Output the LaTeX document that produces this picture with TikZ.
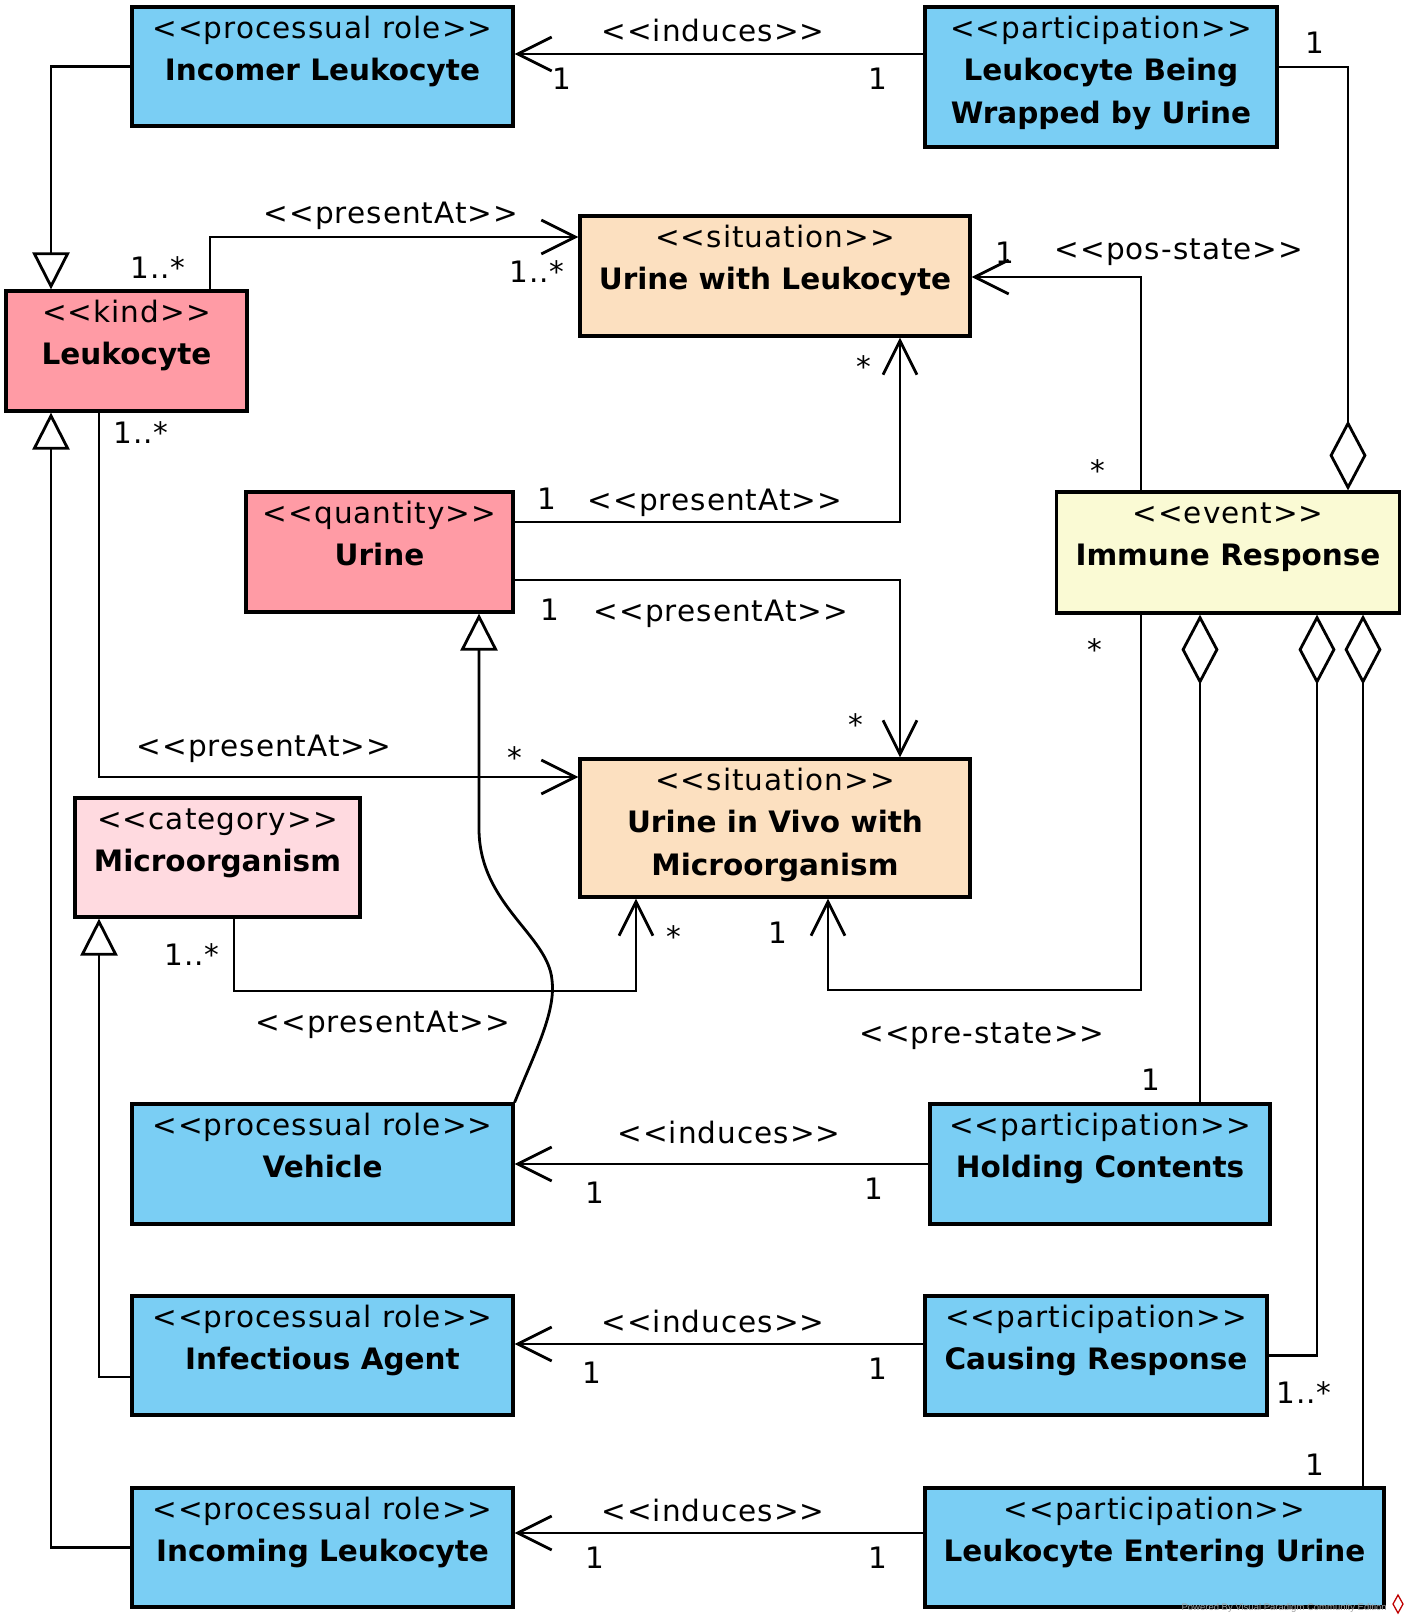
\documentclass[tikz,border=0pt]{standalone}
\usepackage{fontspec}
\setmainfont{DejaVu Sans}[Ligatures=TeXOff, LetterSpace=3.5, BoldFeatures={LetterSpace=0}]
\newfontfamily\wmfont{Liberation Sans}
\usetikzlibrary{arrows.meta}
\definecolor{roleblue}{RGB}{122,206,244}
\definecolor{kindpink}{RGB}{255,155,165}
\definecolor{sitpeach}{RGB}{252,224,192}
\definecolor{eventyellow}{RGB}{250,250,212}
\definecolor{catpink}{RGB}{255,218,224}
\newcommand{\umltext}[4]{\parbox[t][#2][t]{#1}{\centering\rule{0pt}{31pt}#3\\\textbf{#4}\par}}
\tikzset{
  cls/.style={draw=black, line width=3.2pt, inner sep=0pt, rectangle},
  conn/.style={line width=2.8pt, line join=miter},
  assoc/.style={conn, -{Straight Barb[length=34pt, width=34pt]}},
  gen/.style={conn, -{Triangle[length=37pt, width=37pt, fill=white]}},
  agg/.style={conn, -{Diamond[length=70pt, width=37pt, fill=white]}},
  lbl/.style={anchor=base, inner sep=0pt},
}
\begin{document}
\begin{tikzpicture}[x=1pt, y=-1pt, font=\fontsize{29.5pt}{42.5pt}\selectfont]
\useasboundingbox (0,0) rectangle (1410,1620);
\fill[white] (0,0) rectangle (1410,1620);

% classes
\node[cls, fill=roleblue] (incomer) at (322.5,66.5) {\umltext{381pt}{119pt}{<<processual role>>}{Incomer Leukocyte}};
\node[cls, fill=roleblue] (wrapped) at (1101,77) {\umltext{352pt}{140pt}{<<participation>>}{Leukocyte Being\\Wrapped by Urine}};
\node[cls, fill=kindpink] (leuko) at (126.5,351) {\umltext{241pt}{120pt}{<<kind>>}{Leukocyte}};
\node[cls, fill=sitpeach] (uwl) at (775,276) {\umltext{390pt}{120pt}{<<situation>>}{Urine with Leukocyte}};
\node[cls, fill=kindpink] (urine) at (379.5,552) {\umltext{267pt}{120pt}{<<quantity>>}{Urine}};
\node[cls, fill=eventyellow] (immune) at (1228,552.5) {\umltext{343pt}{121pt}{<<event>>}{Immune Response}};
\node[cls, fill=sitpeach] (uiv) at (775,828) {\umltext{390pt}{138pt}{<<situation>>}{Urine in Vivo with\\Microorganism}};
\node[cls, fill=catpink] (micro) at (217.5,857.5) {\umltext{285pt}{119pt}{<<category>>}{Microorganism}};
\node[cls, fill=roleblue] (vehicle) at (322.5,1164) {\umltext{381pt}{120pt}{<<processual role>>}{Vehicle}};
\node[cls, fill=roleblue] (holding) at (1100,1164) {\umltext{340pt}{120pt}{<<participation>>}{Holding Contents}};
\node[cls, fill=roleblue] (infect) at (322.5,1355.5) {\umltext{381pt}{119pt}{<<processual role>>}{Infectious Agent}};
\node[cls, fill=roleblue] (causing) at (1096,1355.5) {\umltext{342pt}{119pt}{<<participation>>}{Causing Response}};
\node[cls, fill=roleblue] (incoming) at (322.5,1547.5) {\umltext{381pt}{119pt}{<<processual role>>}{Incoming Leukocyte}};
\node[cls, fill=roleblue] (entering) at (1154.5,1547.5) {\umltext{459pt}{119pt}{<<participation>>}{Leukocyte Entering Urine}};

% routing coordinates
\coordinate (xa) at (51,0);   \coordinate (xb) at (99,0);
\coordinate (xc) at (210,0);  \coordinate (xd) at (234,0);
\coordinate (xe) at (479,0);  \coordinate (xf) at (636,0);
\coordinate (xg) at (828,0);  \coordinate (xh) at (900,0);
\coordinate (xi) at (1141,0); \coordinate (xj) at (1200,0);
\coordinate (xk) at (1317,0); \coordinate (xl) at (1348,0);
\coordinate (xm) at (1363,0);
\coordinate (ya) at (0,54);   \coordinate (yb) at (0,237);
\coordinate (yc) at (0,522);  \coordinate (yd) at (0,580);
\coordinate (ye) at (0,277);  \coordinate (yf) at (0,777);
\coordinate (yg) at (0,991);  \coordinate (yh) at (0,990);
\coordinate (yi) at (0,67);   \coordinate (yj) at (0,1344);
\coordinate (yk) at (0,1533); \coordinate (yl) at (0,1377);

% connectors
\draw[assoc] (wrapped.west |- ya) -- (incomer.east |- ya);
\draw[gen] (incomer.west) -| (leuko.north -| xa);
\draw[gen] (incoming.west) -| (leuko.south -| xa);
\draw[assoc] (leuko.north -| xc) |- (uwl.west |- yb);
\draw[assoc] (leuko.south -| xb) |- (uiv.west |- yf);
\draw[gen] (infect.west |- yl) -| (micro.south -| xb);
\draw[gen] (vehicle.north east) .. controls (535,1052) and (556,1012) .. (552,980) .. controls (548,935) and (480,905) .. (479,830) -- (urine.south -| xe);
\draw[assoc] (micro.south -| xd) -- (xd |- yg) -| (uiv.south -| xf);
\draw[assoc] (urine.east |- yc) -| (uwl.south -| xh);
\draw[assoc] (urine.east |- yd) -| (uiv.north -| xh);
\draw[assoc] (immune.north -| xi) |- (uwl.east |- ye);
\draw[assoc] (immune.south -| xi) -- (xi |- yh) -| (uiv.south -| xg);
\draw[agg] (wrapped.east |- yi) -| (immune.north -| xl);
\draw[agg] (holding.north -| xj) -- (immune.south -| xj);
\draw[agg] (causing.east) -| (immune.south -| xk);
\draw[agg] (entering.north -| xm) -- (immune.south -| xm);
\draw[assoc] (holding.west) -- (vehicle.east);
\draw[assoc] (causing.west |- yj) -- (infect.east |- yj);
\draw[assoc] (entering.west |- yk) -- (incoming.east |- yk);

% labels
\node[lbl] (l1) at (713,41) {<<induces>>};
\node[lbl] (l2) at (562,89) {1};
\node[lbl] (l3) at (878,89) {1};
\node[lbl] (l4) at (1315,53) {1};
\node[lbl] (l5) at (391,223) {<<presentAt>>};
\node[lbl] (l6) at (158,278) {1..*};
\node[lbl] (l7) at (537,282) {1..*};
\node[lbl] (l8) at (1005,263) {1};
\node[lbl] (l9) at (1179,259) {<<pos-state>>};
\node[lbl] (l10) at (864,377) {*};
\node[lbl] (l11) at (141,443) {1..*};
\node[lbl] (l12) at (1098,481) {*};
\node[lbl] (l13) at (547,509) {1};
\node[lbl] (l14) at (715,510) {<<presentAt>>};
\node[lbl] (l15) at (550,620) {1};
\node[lbl] (l16) at (721,621) {<<presentAt>>};
\node[lbl] (l17) at (1095,660) {*};
\node[lbl] (l18) at (856,735) {*};
\node[lbl] (l19) at (264,756) {<<presentAt>>};
\node[lbl] (l20) at (515,768) {*};
\node[lbl] (l21) at (192,965) {1..*};
\node[lbl] (l22) at (674,947) {*};
\node[lbl] (l23) at (778,943) {1};
\node[lbl] (l24) at (383,1032) {<<presentAt>>};
\node[lbl] (l25) at (982,1043) {<<pre-state>>};
\node[lbl] (l26) at (1151,1090) {1};
\node[lbl] (l27) at (729,1143) {<<induces>>};
\node[lbl] (l28) at (595,1203) {1};
\node[lbl] (l29) at (874,1199) {1};
\node[lbl] (l30) at (713,1332) {<<induces>>};
\node[lbl] (l31) at (592,1383) {1};
\node[lbl] (l32) at (878,1379) {1};
\node[lbl] (l33) at (1304,1403) {1..*};
\node[lbl] (l34) at (1315,1475) {1};
\node[lbl] (l35) at (713,1521) {<<induces>>};
\node[lbl] (l36) at (595,1568) {1};
\node[lbl] (l37) at (878,1568) {1};

% watermark
\node[anchor=base east, inner sep=0pt, text=gray!75, font=\wmfont\fontsize{9.5pt}{10pt}\selectfont] (wm) at (1387,1610) {Powered By Visual Paradigm Community Edition};
\draw[red!75!black, line width=1.3pt] (1398,1595) -- (1403,1604) -- (1398,1613) -- (1393,1604) -- cycle;
\end{tikzpicture}
\end{document}
